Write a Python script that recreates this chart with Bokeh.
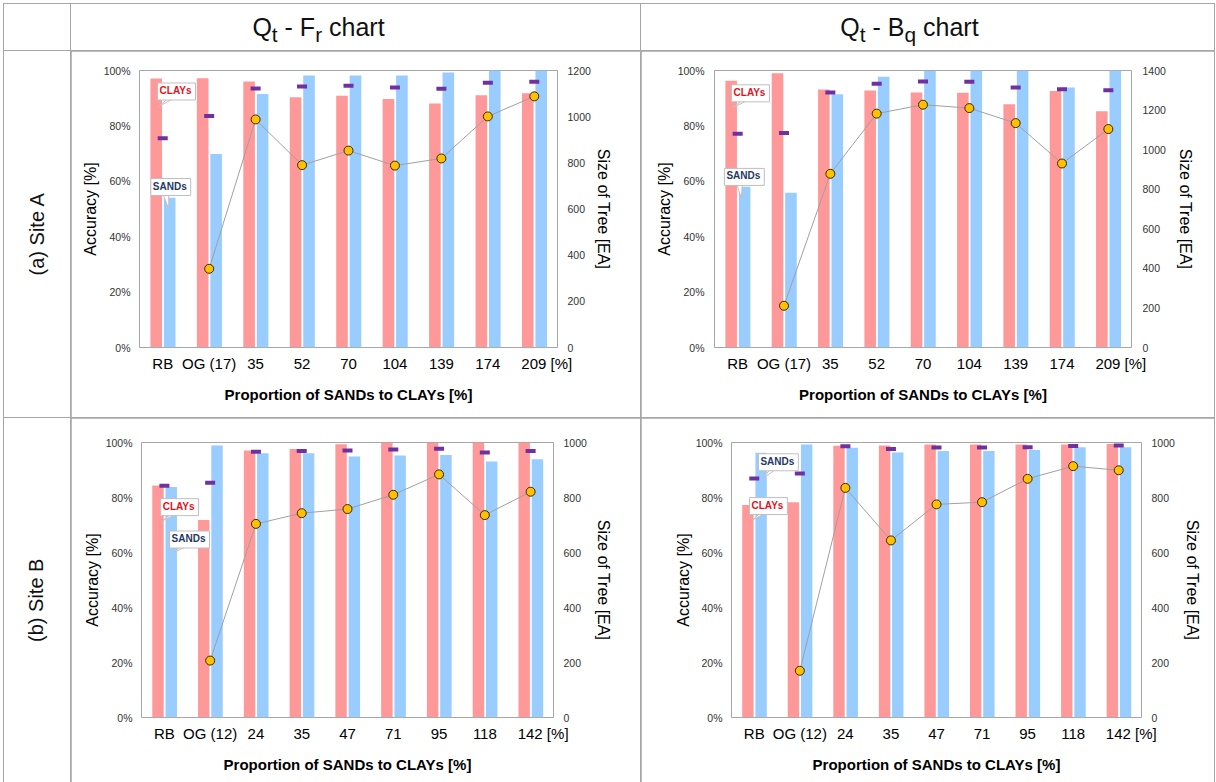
from bokeh.plotting import figure
from bokeh.models import (Range1d, LinearAxis, FixedTicker, PrintfTickFormatter,
                          Label, Div, Row, Column)
from bokeh.embed import file_html
from bokeh.resources import INLINE

NaN = float("nan")

# ---- data -----------------------------------------------------------------
cats_a = ["RB", "OG (17)", "35", "52", "70", "104", "139", "174", "209"]
cats_b = ["RB", "OG (12)", "24", "35", "47", "71", "95", "118", "142"]
unit_suffix = "[%]"

# Site A, Qt-Fr chart
clay_a1 = [97.1, 97.2, 96.0, 90.3, 90.9, 89.7, 88.1, 91.1, 91.8]
sand_a1 = [54.1, 69.9, 91.5, 98.2, 98.2, 98.2, 99.3, 100.0, 100.0]
total_a1 = [75.5, 83.6, 93.5, 94.2, 94.5, 93.9, 93.4, 95.6, 95.9]
tree_a1 = [NaN, 341, 988, 790, 853, 788, 819, 1001, 1088]

# Site A, Qt-Bq chart
clay_a2 = [96.3, 99.0, 93.1, 92.8, 92.1, 92.0, 87.8, 92.6, 85.3]
sand_a2 = [58.0, 55.9, 91.4, 97.7, 99.8, 100.0, 100.0, 93.9, 100.0]
total_a2 = [77.2, 77.4, 92.1, 95.2, 96.0, 95.9, 93.9, 93.2, 92.9]
tree_a2 = [NaN, 211, 878, 1182, 1227, 1210, 1134, 930, 1104]

# Site B, Qt-Fr chart
clay_b1 = [84.4, 71.8, 97.1, 97.6, 99.4, 100.0, 100.0, 100.0, 100.0]
sand_b1 = [83.8, 98.9, 96.1, 96.1, 94.9, 95.3, 95.5, 93.1, 93.9]
total_b1 = [84.3, 85.4, 96.6, 96.9, 97.1, 97.5, 97.7, 96.4, 96.9]
tree_b1 = [NaN, 207, 704, 743, 758, 810, 884, 736, 821]

# Site B, Qt-Bq chart
clay_b2 = [77.3, 78.3, 98.8, 98.9, 99.3, 99.3, 99.3, 99.3, 99.5]
sand_b2 = [96.3, 99.3, 98.1, 96.4, 96.9, 96.9, 97.3, 98.3, 98.3]
total_b2 = [86.9, 88.7, 98.6, 97.6, 98.2, 98.2, 98.3, 98.7, 98.9]
tree_b2 = [NaN, 170, 835, 644, 775, 783, 868, 914, 899]

# ---- styling --------------------------------------------------------------
FONT = "Liberation Sans"
PINK = "#FF9999"
BLUE = "#99CCFF"
PURPLE = "#7030A0"
GOLD = "#FFC000"
RULE = "#A6A6A6"
CLAY_TXT = "#E0121B"
SAND_TXT = "#1F3864"
NBSP = "\u00a0"


def callout(p, n, frame, text, color, tip_x, tip_y, dx, dy):
    """Speech-bubble label pointing at (tip_x, tip_y); box offset dx, dy in px."""
    _, _, fw, fh = frame
    ux = fw / n
    uy = fh / 100.0
    cx = tip_x + dx / ux
    bottom = tip_y + (dy - 6.5) / uy
    p.patch([tip_x, cx - 8.0 / ux, cx - 2.0 / ux], [tip_y, bottom, bottom],
            fill_color="white", line_color="#BFBFBF", line_width=1)
    p.add_layout(Label(x=tip_x, y=tip_y, x_offset=dx, y_offset=dy, text=text,
                       text_align="center", text_baseline="middle",
                       text_font=FONT, text_font_size="10px", text_font_style="bold",
                       text_color=color, background_fill_color="white",
                       border_line_color="#BFBFBF", border_line_width=1,
                       padding=(2, 4, 2, 4)))


def panel(cats, clay, sand, total, tree, tree_max, width, height, frame,
          lstd, rstd, notes):
    n = len(cats)
    fl, ft, fw, fh = frame
    p = figure(width=width, height=height, output_backend="svg",
               toolbar_location=None, x_range=Range1d(0, n), y_range=Range1d(0, 100),
               min_border_left=fl, min_border_right=width - fl - fw,
               min_border_top=ft, min_border_bottom=height - ft - fh)
    p.extra_y_ranges = {"tree": Range1d(0, tree_max)}
    p.background_fill_color = "white"
    p.border_fill_color = "white"
    p.outline_line_color = RULE
    p.outline_line_width = 1
    p.xgrid.visible = False
    p.ygrid.visible = False

    xs = [i + 0.5 for i in range(n)]
    p.vbar(x=[x - 0.14 for x in xs], top=clay, width=0.25, fill_color=PINK, line_color=None)
    p.vbar(x=[x + 0.15 for x in xs], top=sand, width=0.25, fill_color=BLUE, line_color=None)
    p.line(xs, tree, y_range_name="tree", line_color="#A0A0A0", line_width=1)
    p.scatter(xs, tree, y_range_name="tree", size=9, fill_color=GOLD,
              line_color="#3A2A00", line_width=1)
    p.scatter(xs, total, marker="dash", size=10, line_color=PURPLE, line_width=4)

    # the last category carries the unit; pad on the left so the number stays centred
    names = list(cats)
    names[-1] = NBSP * 6 + names[-1] + " " + unit_suffix

    xa = p.xaxis[0]
    xa.ticker = FixedTicker(ticks=xs)
    xa.major_label_overrides = {x: c for x, c in zip(xs, names)}
    xa.major_label_text_font = FONT
    xa.major_label_text_font_size = "15px"
    xa.major_label_text_color = "black"
    xa.major_label_standoff = 7
    xa.major_tick_out = 0
    xa.major_tick_in = 0
    xa.minor_tick_out = 0
    xa.minor_tick_in = 0
    xa.axis_line_color = None
    xa.axis_label = "Proportion of SANDs to CLAYs [%]"
    xa.axis_label_text_font = FONT
    xa.axis_label_text_font_size = "15px"
    xa.axis_label_text_font_style = "bold"
    xa.axis_label_text_color = "black"
    xa.axis_label_standoff = 11

    ya = p.yaxis[0]
    ya.ticker = FixedTicker(ticks=[0, 20, 40, 60, 80, 100])
    ya.formatter = PrintfTickFormatter(format="%d%%")
    ya.axis_label = "Accuracy [%]"

    ra = LinearAxis(y_range_name="tree", axis_label="Size of Tree [EA]")
    ra.ticker = FixedTicker(ticks=list(range(0, tree_max + 1, 200)))
    p.add_layout(ra, "right")

    for ax, std in ((ya, lstd), (ra, rstd)):
        ax.major_label_text_font = FONT
        ax.major_label_text_font_size = "10.5px"
        ax.major_label_text_color = "#333333"
        ax.major_label_standoff = std[0]
        ax.major_tick_out = 0
        ax.major_tick_in = 0
        ax.minor_tick_out = 0
        ax.minor_tick_in = 0
        ax.axis_line_color = None
        ax.axis_label_text_font = FONT
        ax.axis_label_text_font_size = "16px"
        ax.axis_label_text_font_style = "normal"
        ax.axis_label_text_color = "black"
        ax.axis_label_standoff = std[1]

    for text, color, tx, ty, dx, dy in notes:
        callout(p, n, frame, text, color, tx, ty, dx, dy)
    return p


fa1 = panel(cats_a, clay_a1, sand_a1, total_a1, tree_a1, 1200, 569, 366,
            (68, 18, 418, 278), (9, 2), (10, 1),
            [("CLAYs", CLAY_TXT, 0.41, 87, 18, 15),
             ("SANDs", SAND_TXT, 0.63, 50, 2, 22)])
fa2 = panel(cats_a, clay_a2, sand_a2, total_a2, tree_a2, 1400, 573, 366,
            (73, 19, 417, 278), (10, 2), (11, 8),
            [("CLAYs", CLAY_TXT, 0.41, 86.7, 17, 14),
             ("SANDs", SAND_TXT, 0.58, 54, 3, 21)])
fb1 = panel(cats_b, clay_b1, sand_b1, total_b1, tree_b1, 1000, 569, 364,
            (70, 23, 412, 276), (9, 2), (10, 5),
            [("CLAYs", CLAY_TXT, 0.44, 71.4, 18, 14),
             ("SANDs", SAND_TXT, 0.70, 60, 16, 13)])
fb2 = panel(cats_b, clay_b2, sand_b2, total_b2, tree_b2, 1000, 573, 364,
            (90, 24, 410, 277), (9, 1), (10, 6),
            [("SANDs", SAND_TXT, 0.70, 87, 15, 16),
             ("CLAYs", CLAY_TXT, 0.46, 71.8, 16, 14)])


def cell(html, w, h):
    return Div(text=html, width=w, height=h, margin=0,
               styles={"background-color": "white", "overflow": "hidden"})


def header(html, w, h, shift):
    return cell(f'<div style="width:{w}px;height:{h}px;display:flex;align-items:center;'
                f'justify-content:center;font-family:\'{FONT}\';font-size:25px;color:#111;">'
                f'<span style="position:relative;left:{shift}px;top:3px;">{html}</span></div>',
                w, h)


def side(text, w, h):
    return cell(f'<div style="width:{w}px;height:{h}px;display:flex;align-items:center;'
                f'justify-content:center;font-family:\'{FONT}\';font-size:20px;color:#111;">'
                f'<span style="display:inline-block;transform:rotate(-90deg);'
                f'white-space:nowrap;">{text}</span></div>', w, h)


top = Row(children=[cell("", 66, 46),
                    header("Q<sub>t</sub> - F<sub>r</sub> chart", 569, 46, -37),
                    header("Q<sub>t</sub> - B<sub>q</sub> chart", 573, 46, -18)],
          spacing=1, margin=0)
mid = Row(children=[side("(a) Site A", 66, 366), fa1, fa2], spacing=1, margin=0)
bot = Row(children=[side("(b) Site B", 66, 364), fb1, fb2], spacing=1, margin=0)
page = Column(children=[top, mid, bot], spacing=1, margin=(3, 0, 0, 3),
              styles={"background-color": RULE, "padding": "1px 1px 0 1px"})

open("out.html", "w").write(file_html(page, INLINE))
